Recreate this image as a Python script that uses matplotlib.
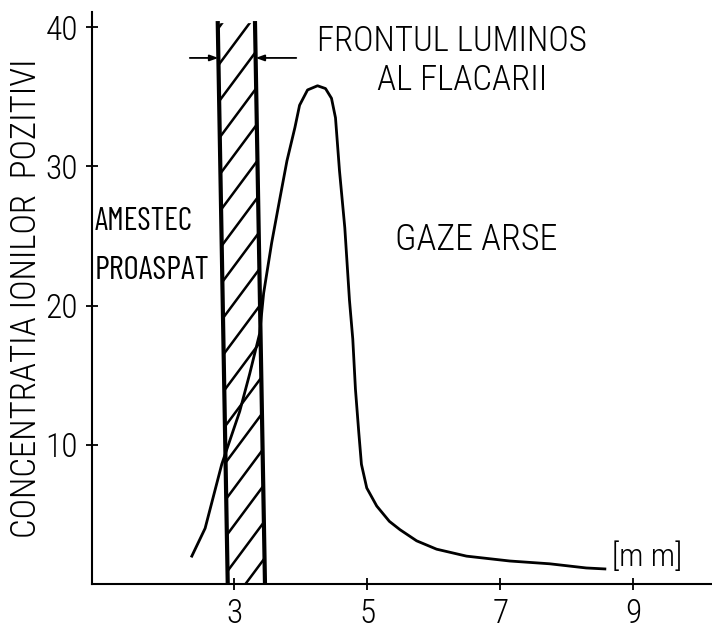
import numpy as np
import matplotlib
matplotlib.use('Agg')
import matplotlib.pyplot as plt
from matplotlib.patches import Polygon

plt.rcParams['font.family'] = ['Roboto Condensed', 'Barlow Condensed', 'DejaVu Sans']
narrow = ['Barlow Condensed', 'DejaVu Sans']

# Data: positive ion concentration across the flame front
x_mm = [2.36, 2.56, 2.81, 3.08, 3.23, 3.38, 3.44, 3.56, 3.68, 3.79, 3.91, 3.98,
        4.10, 4.25, 4.37, 4.46, 4.52, 4.58, 4.66, 4.73, 4.78, 4.82, 4.87, 4.91,
        4.99, 5.14, 5.33, 5.49, 5.74, 6.04, 6.49, 7.14, 7.74, 8.29, 8.57]
conc = [2.0, 4.0, 8.6, 12.4, 15.1, 18.0, 20.9, 24.5, 27.6, 30.4, 32.8, 34.4,
        35.5, 35.8, 35.6, 34.9, 33.5, 29.7, 25.6, 20.4, 17.6, 14.0, 10.9, 8.6,
        6.9, 5.6, 4.5, 3.9, 3.1, 2.5, 2.0, 1.65, 1.45, 1.15, 1.08]

# luminous flame front band (x at top / bottom, top y)
band_top_x = [2.75, 3.31]
band_bot_x = [2.90, 3.46]
band_top = 40.3
front_y = 37.8

x_ticks = [3, 5, 7, 9]
y_ticks = [10, 20, 30, 40]

fig = plt.figure(figsize=(7.12, 6.32), dpi=100)
ax = fig.add_axes([0.129, 0.076, 0.870, 0.905])

# curve
ax.plot(x_mm, conc, color='black', lw=2.0, zorder=3)

# hatched band
verts = [(band_bot_x[0], 0), (band_top_x[0], band_top),
         (band_top_x[1], band_top), (band_bot_x[1], 0)]
band = Polygon(verts, closed=True, facecolor='none', edgecolor='none')
ax.add_patch(band)
xs = np.array([2.5, 3.7])
for c in np.arange(-8, 46, 2.66):
    ln, = ax.plot(xs, c + 6.43 * (xs - 2.75), color='black', lw=1.8, zorder=2)
    ln.set_clip_path(band)
ax.plot([band_bot_x[0], band_top_x[0]], [0, band_top], color='black', lw=3.0, zorder=4)
ax.plot([band_bot_x[1], band_top_x[1]], [0, band_top], color='black', lw=3.0, zorder=4)

# dimension arrows for the flame front
left_at = band_top_x[0] + (band_bot_x[0] - band_top_x[0]) * (band_top - front_y) / band_top
right_at = band_top_x[1] + (band_bot_x[1] - band_top_x[1]) * (band_top - front_y) / band_top
arrow = dict(arrowstyle='-|>,head_length=0.5,head_width=0.18', color='black',
             lw=1.3, shrinkA=0, shrinkB=0)
ax.annotate('', xy=(left_at, front_y), xytext=(2.33, front_y), arrowprops=arrow)
ax.annotate('', xy=(right_at, front_y), xytext=(3.93, front_y), arrowprops=arrow)

# labels
ax.text(6.27, 39.0, 'FRONTUL LUMINOS', fontsize=25, weight='light', ha='center', va='center')
ax.text(6.43, 36.2, 'AL FLACARII', fontsize=25, weight='light', ha='center', va='center')
ax.text(6.64, 24.7, 'GAZE ARSE', fontsize=26, weight='light', ha='center', va='center')
ax.text(0.90, 26.0, 'AMESTEC', fontsize=23, family=narrow, ha='left', va='center')
ax.text(0.90, 22.5, 'PROASPAT', fontsize=24, family=narrow, ha='left', va='center')
ax.text(9.21, 1.94, '[m m]', fontsize=23, weight='light', ha='center', va='center')

ax.set_xlim(0.857, 10.17)
ax.set_ylim(0, 41.1)
ax.set_xticks(x_ticks)
ax.set_yticks(y_ticks)
ax.tick_params(axis='both', direction='inout', length=8, width=1.3,
               labelsize=24, pad=6)
for lab in ax.get_xticklabels() + ax.get_yticklabels():
    lab.set_fontweight('light')
ax.set_ylabel('CONCENTRATIA IONILOR  POZITIVI', fontsize=25, fontweight='light')
ax.yaxis.set_label_coords(-0.079, 0.50)

for side in ['top', 'right']:
    ax.spines[side].set_visible(False)
for side in ['left', 'bottom']:
    ax.spines[side].set_linewidth(1.5)

fig.savefig('out.png', dpi=100)
